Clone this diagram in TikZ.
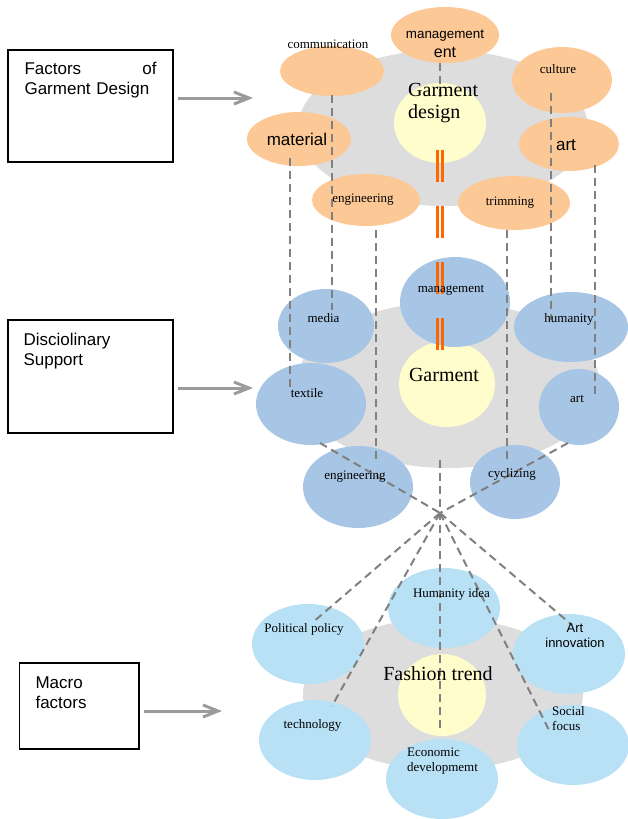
\documentclass[tikz,border=0pt]{standalone}
\usepackage{fontspec}
\setmainfont{Liberation Serif}
\newfontfamily\arialf{Liberation Sans}
\usetikzlibrary{arrows.meta,positioning,shapes.geometric,calc}

\definecolor{peach}{RGB}{252,201,150}
\definecolor{skyblue}{RGB}{167,197,228}
\definecolor{paleblue}{RGB}{185,225,246}
\definecolor{plategray}{RGB}{221,221,221}
\definecolor{coreyellow}{RGB}{255,253,204}
\definecolor{barorange}{RGB}{255,102,0}
\definecolor{linkgray}{RGB}{128,128,128}
\definecolor{feedgray}{RGB}{155,155,155}

\begin{document}
\begin{tikzpicture}[
  x=1pt, y=-1pt,
  blob/.style={ellipse, draw=none, inner sep=0pt},
  sz/.style 2 args={minimum width=#1pt, minimum height=#2pt},
  plate/.style={blob, fill=plategray},
  core/.style={blob, fill=coreyellow},
  design/.style={blob, fill=peach},
  subject/.style={blob, fill=skyblue},
  macro/.style={blob, fill=paleblue},
  frame/.style={draw, line width=1.3pt, inner sep=0pt},
  boxtext/.style={font=\arialf\fontsize{17}{20}\selectfont, align=left, inner sep=0pt},
  lab/.style={font=\fontsize{13}{15}\selectfont, inner sep=0pt, anchor=base},
  labsans/.style={lab, font=\arialf\fontsize{13}{15}\selectfont},
  biglab/.style={lab, font=\arialf\fontsize{17}{20}\selectfont},
  corelab/.style={lab, font=\fontsize{20}{22}\selectfont},
  link/.style={linkgray, line width=2pt, dash pattern=on 8pt off 5pt},
  bar/.style={barorange, line width=2.2pt, dash pattern=on 31.5pt off 24.5pt},
  feed/.style={-{Straight Barb[length=15pt,width=12pt]}, line width=3pt, feedgray},
]
\useasboundingbox (0,0) rectangle (627,819);

% Left: level boxes
\node[frame, sz={165}{112}] (f1) at (90.5,106) {};
\node[frame, sz={165}{113}] (f2) at (90.5,376.5) {};
\node[frame, sz={119.5}{86}] (f3) at (79.25,706) {};
\node[boxtext, text width=132pt, below right=13pt and 17pt of f1.north west] (f1-t) {Factors\hfill of\\Garment Design};
\node[boxtext, below right=14pt and 16pt of f2.north west] (f2-t) {Disciolinary\\Support};
\node[boxtext, below right=14pt and 16.5pt of f3.north west] (f3-t) {Macro\\factors};

% Top: garment design
\node[plate, sz={290}{156}] (tbase) at (443,128) {};
\node[core, sz={92}{80}] (tcore) at (440,123) {};
\node[design, sz={108}{56}] (tmgmt) at (445,35) {};
\node[design, sz={104}{50}] (tcomm) at (332,71) {};
\node[design, sz={100}{66}] (tcult) at (562,80) {};
\node[design, sz={104}{54}] (tmat) at (299,139) {};
\node[design, sz={100}{54}] (tart) at (569,144) {};
\node[design, sz={108}{52}] (teng) at (366,200) {};
\node[design, sz={112}{54}] (ttrim) at (514,203) {};

% Middle: disciplines
\node[plate, sz={304}{166}] (mbase) at (448,385) {};
\node[core, sz={96}{86}] (mcore) at (447,384) {};
\node[subject, sz={110}{90}] (mmgmt) at (455,302) {};
\node[subject, sz={96}{74}] (mmedia) at (326,326) {};
\node[subject, sz={114}{70}] (mhum) at (571,327) {};
\node[subject, sz={110}{82}] (mtex) at (311,404) {};
\node[subject, sz={80}{76}] (mart) at (579,407) {};
\node[subject, sz={110}{82}] (meng) at (358,487) {};
\node[subject, sz={90}{74}] (mcyc) at (515,482) {};

% Bottom: macro factors
\node[plate, sz={280}{152}] (bbase) at (443,694) {};
\node[core, sz={88}{82}] (bcore) at (442,695) {};
\node[macro, sz={112}{80}] (bhum) at (444,608) {};
\node[macro, sz={112}{80}] (bpol) at (308,644) {};
\node[macro, sz={112}{80}] (bart) at (569,654) {};
\node[macro, sz={112}{80}] (btech) at (315,740) {};
\node[macro, sz={112}{80}] (bsoc) at (573,745) {};
\node[macro, sz={112}{80}] (beco) at (442,779) {};

% Arrows into the clusters
\coordinate (a1) at (253,98);
\coordinate (a2) at (253,388);
\coordinate (a3) at (222,711);
\draw[feed, shorten <=4pt] (f1.east |- a1) -- (a1);
\draw[feed, shorten <=4pt] (f2.east |- a2) -- (a2);
\draw[feed, shorten <=4pt] (f3.east |- a3) -- (a3);

% Dashed links, top to middle
\draw[link] ($(tmat.center)+(-9,19)$) -- ($(mtex.center)+(-21,-14)$);
\draw[link] ($(tcomm.center)+(0,24)$) -- ($(mmedia.center)+(6,-16)$);
\draw[link] ($(teng.center)+(10,30)$) -- ($(meng.center)+(18,-27)$);
\draw[link] ($(tmgmt.center)+(-5,28)$) -- ($(tcore.center)+(0,-23)$);
\draw[link] ($(ttrim.center)+(-7,27)$) -- ($(mcyc.center)+(-8,-22)$);
\draw[link] ($(tcult.center)+(-11,13)$) -- ($(mhum.center)+(-20,-7)$);
\draw[link] ($(tart.center)+(26,21)$) -- ($(mart.center)+(16,-9)$);

% Dashed links, middle to bottom
\coordinate (hub) at (440,513);
\draw[link] ($(mtex.center)+(9,39)$) -- (hub);
\draw[link] ($(mart.center)+(-11,36)$) -- (hub);
\draw[link] ($(mbase.center)+(-8,75)$) -- (hub) -- ($(bcore.center)+(-2,38)$);
\draw[link] (hub) -- ($(bpol.center)+(4,-21)$);
\draw[link] (hub) -- ($(btech.center)+(17,-34)$);
\draw[link] (hub) -- ($(bsoc.center)+(-23,-13)$);
\draw[link] (hub) -- ($(bart.center)+(3,-29)$);

% Orange double bars
\foreach \dx in {-2.5,2.5}
  \draw[bar] ($(tcore.center)+(\dx,27)$) -- ($(tcore.center)+(\dx,227)$);

% Labels
\node[lab] (tcomm-l) at (328,48) {communication};
\node[labsans, font=\arialf\fontsize{13.4}{15}\selectfont] (tmgmt-l) at (445,38) {management};
\node[labsans, font=\arialf\fontsize{16}{18}\selectfont] (tmgmt-m) at (445,57) {ent};
\node[lab] (tcult-l) at (558,73) {culture};
\node[biglab] (tmat-l) at (297,145) {material};
\node[biglab] (tart-l) at (566,150) {art};
\node[lab] (teng-l) at (363,202) {engineering};
\node[lab] (ttrim-l) at (510,205) {trimming};
\node[corelab, anchor=north west, align=left] (tcore-l) at (408,83) {Garment\\design};

\node[lab] (mmgmt-l) at (451,292) {management};
\node[lab] (mmedia-l) at (323.5,322) {media};
\node[lab] (mhum-l) at (569,322) {humanity};
\node[corelab] (mcore-l) at (444,381) {Garment};
\node[lab] (mtex-l) at (307,397) {textile};
\node[lab] (mart-l) at (577,402) {art};
\node[lab] (meng-l) at (355,479) {engineering};
\node[lab] (mcyc-l) at (512,477) {cyclizing};

\node[lab] (bhum-l) at (451.5,597) {Humanity idea};
\node[lab] (bpol-l) at (304,632) {Political policy};
\node[labsans, anchor=north, align=center] (bart-l) at (575,623) {Art\\innovation};
\node[corelab] (bcore-l) at (438,680) {Fashion trend};
\node[lab] (btech-l) at (312.5,728) {technology};
\node[lab, anchor=north west, align=left] (bsoc-l) at (552,706) {Social\\focus};
\node[lab, anchor=north west, align=left] (beco-l) at (407,748) {Economic\\developmemt};

\end{tikzpicture}
\end{document}
